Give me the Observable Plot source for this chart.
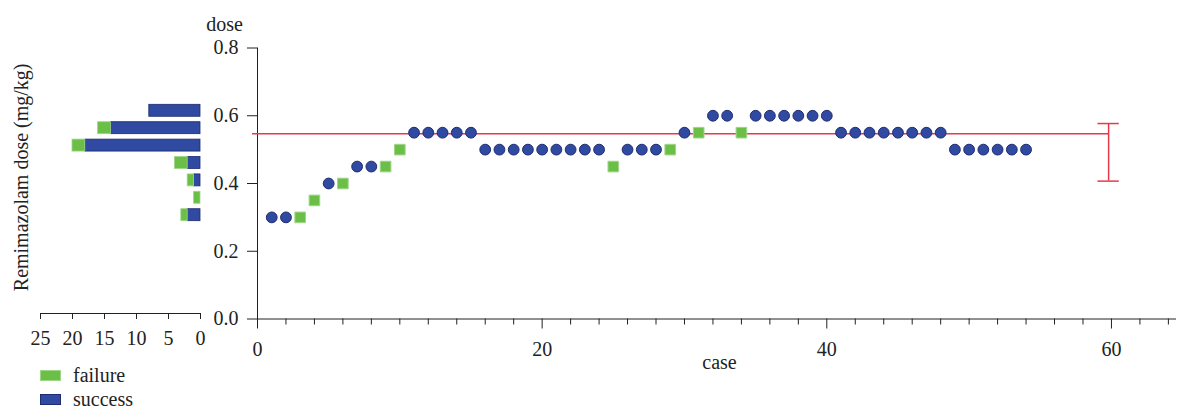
<!DOCTYPE html>
<html>
<head>
<meta charset="utf-8">
<script src="https://cdn.jsdelivr.net/npm/d3@7"></script>
<script src="https://cdn.jsdelivr.net/npm/@observablehq/plot@0.6"></script>
<style>
  html, body { margin: 0; padding: 0; background: white; }
  #wrap { position: relative; width: 1177px; height: 411px; font-family: "Liberation Serif", serif; }
  #wrap svg { position: absolute; top: 0; left: 0; }
  .legend { position: absolute; left: 40px; font-size: 20px; color: #222; display: flex; align-items: center; }
  .sw { width: 21px; height: 11px; margin-right: 12px; box-sizing: border-box; }
</style>
</head>
<body>
<div id="wrap"></div>
<script>
// ---- data ----
const doses = [0.30,0.30,0.30,0.35,0.40,0.40,0.45,0.45,0.45,0.50,
               0.55,0.55,0.55,0.55,0.55,
               0.50,0.50,0.50,0.50,0.50,0.50,0.50,0.50,0.50,
               0.45,0.50,0.50,0.50,0.50,0.55,0.55,0.60,0.60,0.55,
               0.60,0.60,0.60,0.60,0.60,0.60,
               0.55,0.55,0.55,0.55,0.55,0.55,0.55,0.55,
               0.50,0.50,0.50,0.50,0.50,0.50];
const outcomes = ["success","success","failure","failure","success","failure","success","success","failure","failure",
                  "success","success","success","success","success",
                  "success","success","success","success","success","success","success","success","success",
                  "failure","success","success","success","failure","success","failure","success","success","failure",
                  "success","success","success","success","success","success",
                  "success","success","success","success","success","success","success","success",
                  "success","success","success","success","success","success"];

const doseLevels = [0.30, 0.35, 0.40, 0.45, 0.50, 0.55, 0.60];
const successCounts = [2, 0, 1, 2, 18, 14, 8];
const failureCounts = [1, 1, 1, 2, 2, 2, 0];

const ed50 = 0.547;
const ciLow = 0.407;
const ciHigh = 0.577;
const ciCase = 59.8;
const lineStart = -0.35;

const yTicks = [0, 0.2, 0.4, 0.6, 0.8];
const xMajorTicks = [0, 20, 40, 60];
const xMinorTicks = [2,4,6,8,10,12,14,16,18,22,24,26,28,30,32,34,36,38,42,44,46,48,50,52,54,56,58,62,64];
const countTicks = [0, 5, 10, 15, 20, 25];

const blue = "#2f4aa0", blueStroke = "#1f2b72";
const green = "#6cbf46", greenStroke = "#9fd68a";
const red = "#e8394b";
const serif = "Liberation Serif";
const svgStyle = "background: transparent; font-family: 'Liberation Serif', serif; font-size: 20px; color: #222;";

const points = doses.map((d, i) => ({case: i + 1, dose: d, outcome: outcomes[i]}));
const bars = doseLevels.map((d, i) => ({dose: d, success: successCounts[i], failure: failureCounts[i]}));

// ---- main plot ----
const main = Plot.plot({
  width: 1177, height: 411,
  marginLeft: 257, marginRight: 2, marginTop: 47.5, marginBottom: 92.5,
  style: svgStyle,
  x: {domain: [0, 64.5]},
  y: {domain: [0, 0.8]},
  marks: [
    Plot.axisX({ticks: xMinorTicks, tickSize: 6, tickFormat: () => "", label: null, stroke: "#222"}),
    Plot.axisX({ticks: xMajorTicks, tickSize: 10, tickPadding: 13, fontSize: 20, fontFamily: serif, fill: "#222", label: null, stroke: "#222"}),
    Plot.axisY({ticks: yTicks, tickSize: 10, tickPadding: 9, fontSize: 20, fontFamily: serif, fill: "#222", tickFormat: d3.format(".1f"), label: null, stroke: "#222"}),
    Plot.frame({anchor: "left", stroke: "#222"}),
    Plot.frame({anchor: "bottom", stroke: "#222"}),
    Plot.text(["dose"], {frameAnchor: "top-left", textAnchor: "middle", dx: -33, dy: -31, fontSize: 20, fontFamily: serif, fill: "#222"}),
    Plot.text(["case"], {frameAnchor: "bottom", dx: 3, dy: 50, fontSize: 20, fontFamily: serif, fill: "#222"}),
    Plot.ruleY([ed50], {x1: lineStart, x2: ciCase, stroke: red, strokeWidth: 1.4}),
    Plot.ruleX([ciCase], {y1: ciLow, y2: ciHigh, stroke: red, strokeWidth: 1.5}),
    Plot.ruleY([ciLow, ciHigh], {x1: ciCase - 0.75, x2: ciCase + 0.75, stroke: red, strokeWidth: 1.5}),
    Plot.dot(points.filter(d => d.outcome === "success"), {x: "case", y: "dose", r: 5.4, fill: blue, stroke: blueStroke, strokeWidth: 1}),
    Plot.dot(points.filter(d => d.outcome === "failure"), {x: "case", y: "dose", r: 6, symbol: "square", fill: green, stroke: greenStroke, strokeWidth: 1})
  ]
});

// ---- left bar plot ----
const left = Plot.plot({
  width: 215, height: 411,
  marginLeft: 40, marginRight: 15, marginTop: 40.7, marginBottom: 98,
  style: svgStyle,
  x: {domain: [25, 0]},
  y: {domain: [0.0175, 0.8], axis: null},
  marks: [
    Plot.axisX({ticks: countTicks, tickSize: 6, tickPadding: 11, fontSize: 20, fontFamily: serif, fill: "#222", label: null, stroke: "#222"}),
    Plot.frame({anchor: "bottom", stroke: "#222"}),
    Plot.rectX(bars, {x1: 0, x2: "success", y1: d => d.dose - 0.0172, y2: d => d.dose + 0.0172, fill: blue, stroke: blueStroke, strokeWidth: 0.8}),
    Plot.rectX(bars.filter(d => d.failure > 0), {x1: "success", x2: d => d.success + d.failure, y1: d => d.dose - 0.0172, y2: d => d.dose + 0.0172, fill: green, stroke: greenStroke, strokeWidth: 0.8}),
    Plot.text(["Remimazolam dose (mg/kg)"], {frameAnchor: "left", textAnchor: "middle", lineAnchor: "middle", rotate: -90, dx: -19, fontSize: 20, fontFamily: serif, fill: "#222"})
  ]
});

const wrap = document.getElementById("wrap");
wrap.appendChild(main);
wrap.appendChild(left);

const legendItems = [["failure", green, greenStroke, 364], ["success", blue, blueStroke, 388]];
for (const [name, fill, stroke, top] of legendItems) {
  const row = document.createElement("div");
  row.className = "legend";
  row.style.top = top + "px";
  row.style.height = "23px";
  const sw = document.createElement("span");
  sw.className = "sw";
  sw.style.background = fill;
  sw.style.border = "1px solid " + stroke;
  const label = document.createElement("span");
  label.textContent = name;
  row.appendChild(sw);
  row.appendChild(label);
  wrap.appendChild(row);
}
</script>
</body>
</html>
